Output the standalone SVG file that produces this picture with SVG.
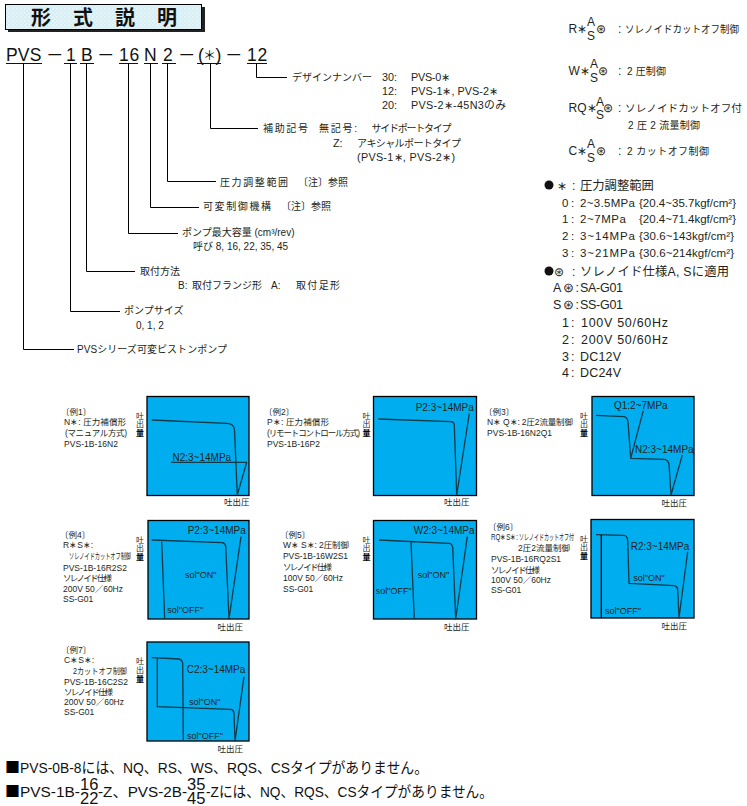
<svg xmlns="http://www.w3.org/2000/svg" width="747" height="806" viewBox="0 0 747 806">
<style>
text{font-family:"Liberation Sans","Noto Sans CJK JP",sans-serif;fill:#231f20;font-size:10px}
.code{font-size:17.500px;letter-spacing:.7px;fill:#111}
.ast{font-size:13px;fill:#111;font-family:"Noto Sans CJK JP",sans-serif}
.ttl{font-size:20px;font-weight:bold;fill:#111}
.s{font-size:8.500px}
.n{font-size:10.800px}
.r{font-size:12px}
.j{font-size:10px}
.l{font-size:12.300px}
.sp{font-size:11.500px}
.w{font-size:12.500px}
.b{font-size:15px;fill:#111}
.fr{font-size:16.500px;fill:#111}
.sq{font-size:15px;fill:#000;font-family:"Noto Sans CJK JP",sans-serif}
.v{font-size:8px;text-anchor:middle}
.vb{font-size:8px;text-anchor:middle;font-weight:bold;fill:#000}
.t{font-size:10px}
.o{font-size:9px}
.c{fill:none;stroke:#0b3a4a;stroke-width:1.300;stroke-linejoin:round}
.box{fill:#00aeef;stroke:#000;stroke-width:1.300}
#connectors path{fill:none;stroke:#000;stroke-width:1}
.u{fill:none;stroke:#111;stroke-width:1}
</style>
<defs>
<pattern id="dots" width="4" height="4" patternUnits="userSpaceOnUse"><rect width="4" height="4" fill="#d6eef4"/><circle cx="1" cy="1" r=".7" fill="#fff"/><circle cx="3" cy="3" r=".7" fill="#f1fafc"/></pattern>
</defs>
<rect width="747" height="806" fill="#fff"/>
<g id="title">
<rect x="8" y="7" width="197" height="25" fill="#222"/>
<rect x="5.500" y="4.500" width="196" height="25" fill="url(#dots)" stroke="#000" stroke-width="1"/>
<text class="ttl" x="31" y="24.500">形</text><text class="ttl" x="73" y="24.500">式</text><text class="ttl" x="115" y="24.500">説</text><text class="ttl" x="157" y="24.500">明</text>
</g>
<g id="model-code">
<text class="code" x="6" y="60.500" textLength="36">PVS</text><text class="code" x="46" y="60.500">－</text>
<text class="code" x="66" y="60.500">1</text><text class="code" x="81" y="60.500">B</text><text class="code" x="97" y="60.500">－</text>
<text class="code" x="119" y="60.500">16</text><text class="code" x="144" y="60.500">N</text><text class="code" x="163" y="60.500">2</text><text class="code" x="178" y="60.500">－</text>
<text class="code" x="198" y="60.500">(</text><text class="ast" x="203" y="60">＊</text><text class="code" x="215.500" y="60.500">)</text><text class="code" x="225" y="60.500">－</text><text class="code" x="247" y="60.500">12</text>
<path class="u" d="M6 63.500H42M64 63.500H77M80 63.500H94M119 63.500H138M144 63.500H158M162 63.500H176M197 63.500H221M247 63.500H267"/>
</g>
<g id="connectors">
<path d="M256.500 63V77.500H287"/>
<path d="M210.500 63V128.500H258"/>
<path d="M167.500 63V181.500H216"/>
<path d="M150.500 63V207.500H199"/>
<path d="M128.500 63V233.500H178"/>
<path d="M86.500 63V271.500H135"/>
<path d="M70.500 63V311.500H120"/>
<path d="M23.500 63V349.500H74"/>
</g>
<g id="label-design">
<text x="292" y="81">デザインナンバー</text><text class="n" x="382" y="81">30:</text><text class="n" x="411" y="81" textLength="39">PVS-0∗</text>
<text class="n" x="382" y="95">12:</text><text class="n" x="411" y="95" textLength="87">PVS-1∗, PVS-2∗</text>
<text class="n" x="382" y="109">20:</text><text class="n" x="411" y="109" textLength="95">PVS-2∗-45N3のみ</text>
</g>
<g id="label-aux">
<text x="263" y="132" textLength="45">補助記号</text><text x="319" y="132" textLength="38">無記号:</text><text x="371.500" y="132" textLength="80">サイドポートタイプ</text>
<text class="n" x="333" y="147">Z:</text><text x="357" y="147" textLength="104">アキシャルポートタイプ</text>
<text class="n" x="357" y="161" textLength="98">(PVS-1∗, PVS-2∗)</text>
</g>
<g id="label-pressure"><text x="220" y="186" textLength="68">圧力調整範囲</text><text x="298" y="186">〔注〕参照</text></g>
<g id="label-variable"><text x="203" y="210" textLength="68">可変制御機構</text><text x="281" y="210">〔注〕参照</text></g>
<g id="label-capacity"><text x="182" y="236">ポンプ最大容量 (cm³/rev)</text><text x="193" y="250">呼び 8, 16, 22, 35, 45</text></g>
<g id="label-mount"><text x="140" y="275">取付方法</text><text x="178" y="289">B:</text><text x="192" y="289">取付フランジ形</text><text x="271" y="289">A:</text><text x="296" y="289" textLength="44">取付足形</text></g>
<g id="label-size"><text x="124" y="314">ポンプサイズ</text><text x="136" y="329">0, 1, 2</text></g>
<g id="label-series"><text x="77" y="353" textLength="150">PVSシリーズ可変ピストンポンプ</text></g>

<g id="control-legend">
<text class="r" x="568.500" y="33">R∗</text><text class="r" x="587" y="26">A</text><text class="r" x="587" y="40">S</text><text class="r" x="596" y="33">⊛</text><text class="r" x="618" y="33">:</text><text class="j" x="625" y="33" textLength="114" lengthAdjust="spacingAndGlyphs">ソレノイドカットオフ制御</text>
<text class="r" x="568.500" y="75">W∗</text><text class="r" x="590" y="68">A</text><text class="r" x="590" y="82">S</text><text class="r" x="598" y="75">⊛</text><text class="r" x="618" y="75">:</text><text class="j" x="627" y="75" textLength="39">2 圧制御</text>
<text class="r" x="568.500" y="112">RQ∗</text><text class="r" x="596" y="106">A</text><text class="r" x="596" y="119">S</text><text class="r" x="603" y="112">⊛</text><text class="r" x="618" y="112">:</text><text class="j" x="625" y="112" textLength="117" lengthAdjust="spacingAndGlyphs">ソレノイドカットオフ付</text>
<text class="j" x="628" y="129" textLength="72">2 圧 2 流量制御</text>
<text class="r" x="568.500" y="155">C∗</text><text class="r" x="587" y="148">A</text><text class="r" x="587" y="162">S</text><text class="r" x="596" y="155">⊛</text><text class="r" x="618" y="155">:</text><text class="j" x="627" y="155" textLength="82">2 カットオフ制御</text>
</g>
<g id="spec-legend">
<circle cx="549" cy="185" r="4.500" fill="#111"/><text class="l" x="557" y="190">∗</text><text class="l" x="572" y="190">:</text><text class="l" x="580" y="190">圧力調整範囲</text>
<text class="sp" x="562" y="207">0</text><text class="sp" x="571" y="207">:</text><text class="sp" x="580" y="207" textLength="55">2~3.5MPa</text><text class="sp" x="639" y="207" textLength="97">{20.4~35.7kgf/cm²}</text>
<text class="sp" x="562" y="223">1</text><text class="sp" x="571" y="223">:</text><text class="sp" x="580" y="223" textLength="46">2~7MPa</text><text class="sp" x="639" y="223" textLength="97">{20.4~71.4kgf/cm²}</text>
<text class="sp" x="562" y="240">2</text><text class="sp" x="571" y="240">:</text><text class="sp" x="580" y="240" textLength="55">3~14MPa</text><text class="sp" x="639" y="240" textLength="95">{30.6~143kgf/cm²}</text>
<text class="sp" x="562" y="257">3</text><text class="sp" x="571" y="257">:</text><text class="sp" x="580" y="257" textLength="55">3~21MPa</text><text class="sp" x="639" y="257" textLength="95">{30.6~214kgf/cm²}</text>
<circle cx="549" cy="271" r="4.500" fill="#111"/><text class="l" x="554" y="276">⊛</text><text class="l" x="572" y="276">:</text><text class="l" x="580" y="276" textLength="149">ソレノイド仕様A, Sに適用</text>
<text class="w" x="553" y="292" textLength="26">A⊛:</text><text class="w" x="580" y="292" textLength="43">SA-G01</text>
<text class="w" x="553" y="309" textLength="26">S⊛:</text><text class="w" x="580" y="309" textLength="43">SS-G01</text>
<text class="w" x="562" y="327">1</text><text class="w" x="571" y="327">:</text><text class="w" x="581" y="327" textLength="87">100V 50/60Hz</text>
<text class="w" x="562" y="344">2</text><text class="w" x="571" y="344">:</text><text class="w" x="581" y="344" textLength="87">200V 50/60Hz</text>
<text class="w" x="562" y="361">3</text><text class="w" x="571" y="361">:</text><text class="w" x="580" y="361" textLength="41">DC12V</text>
<text class="w" x="562" y="377">4</text><text class="w" x="571" y="377">:</text><text class="w" x="580" y="377" textLength="41">DC24V</text>
</g>

<g id="chart1">
<text class="s" x="61" y="415">〔例1〕</text><text class="s" x="64" y="425" textLength="62">N∗: 圧力補償形</text><text class="s" x="65" y="436" textLength="62">(マニュアル方式)</text><text class="s" x="64" y="447" textLength="54">PVS-1B-16N2</text>
<rect class="box" x="147" y="396.500" width="102" height="99"/>
<path class="c" d="M151.700 420L227 423.300Q234 423.500 234.500 430L237.300 495L246.700 462.300H171"/>
<text class="t" x="172.500" y="460.500">N2:3~14MPa</text>
<text class="v" x="140" y="418.500">吐</text><text class="v" x="140" y="427">出</text><text class="vb" x="140" y="436">量</text>
<text class="s" x="224" y="505">吐出圧</text>
</g>
<g id="chart2">
<text class="s" x="264" y="415">〔例2〕</text><text class="s" x="267" y="425" textLength="62">P∗: 圧力補償形</text><text class="s" x="267" y="436" textLength="93">(リモートコントロール方式)</text><text class="s" x="267" y="447" textLength="53">PVS-1B-16P2</text>
<rect class="box" x="373.500" y="396.500" width="103" height="99"/>
<path class="c" d="M378.300 419L451 421.700Q454 422 454.300 425L456.700 495L469.300 413.300"/>
<text class="t" x="415.700" y="411">P2:3~14MPa</text>
<text class="v" x="366.500" y="418.500">吐</text><text class="v" x="366.500" y="427">出</text><text class="vb" x="366.500" y="436">量</text>
<text class="s" x="444" y="505">吐出圧</text>
</g>
<g id="chart3">
<text class="s" x="484" y="415">〔例3〕</text><text class="s" x="487" y="425" textLength="86">N∗ Q∗: 2圧2流量制御</text><text class="s" x="487" y="436" textLength="65">PVS-1B-16N2Q1</text>
<rect class="box" x="592" y="396.500" width="102" height="99"/>
<path class="c" d="M596 415.300L624 416.700Q627 417 628 421.700L630.700 458.300L643.300 410.700M630.700 458.300L664 459.300Q668 459.500 669 464L671 495L682.300 455"/>
<text class="t" x="614" y="409.300">Q1:2~7MPa</text>
<text class="t" x="635" y="452.700">N2:3~14MPa</text>
<text class="v" x="584" y="418.500">吐</text><text class="v" x="584" y="427">出</text><text class="vb" x="584" y="436">量</text>
<text class="s" x="661.500" y="506">吐出圧</text>
</g>
<g id="chart4">
<text class="s" x="60" y="538">〔例4〕</text><text class="s" x="63" y="548">R∗S∗:</text><text class="s" x="69" y="559" textLength="62" lengthAdjust="spacingAndGlyphs">ソレノイドカットオフ制御</text><text class="s" x="63" y="571" textLength="64">PVS-1B-16R2S2</text><text class="s" x="63" y="581" textLength="49">ソレノイド仕様</text><text class="s" x="63" y="592" textLength="60">200V 50／60Hz</text><text class="s" x="63" y="602">SS-G01</text>
<rect class="box" x="148" y="520.500" width="101" height="98.500"/>
<path class="c" d="M151.700 540L222 542.700Q225 543 225.700 546L229 619L241 536.700M161.700 541.700L164.700 619"/>
<text class="t" x="187.700" y="534.300">P2:3~14MPa</text>
<text class="o" x="185" y="578">sol"ON"</text><text class="o" x="167.300" y="613.300">sol"OFF"</text>
<text class="v" x="140" y="542.500">吐</text><text class="v" x="140" y="551">出</text><text class="vb" x="140" y="560">量</text>
<text class="s" x="217.500" y="629.500">吐出圧</text>
</g>
<g id="chart5">
<text class="s" x="280" y="538">〔例5〕</text><text class="s" x="283" y="548" textLength="66">W∗ S∗: 2圧制御</text><text class="s" x="283" y="559" textLength="65">PVS-1B-16W2S1</text><text class="s" x="283" y="570" textLength="49">ソレノイド仕様</text><text class="s" x="283" y="581" textLength="60">100V 50／60Hz</text><text class="s" x="283" y="592">SS-G01</text>
<rect class="box" x="373.500" y="520.500" width="103" height="98.500"/>
<path class="c" d="M379 540L449 543.300Q452 543.500 452.700 547.300L455.700 619L467.300 536.700M411 541.700L414.300 619"/>
<text class="t" x="413.700" y="534">W2:3~14MPa</text>
<text class="o" x="417.700" y="578">sol"ON"</text><text class="o" x="375.700" y="594.300">sol"OFF"</text>
<text class="v" x="366.500" y="542.500">吐</text><text class="v" x="366.500" y="551">出</text><text class="vb" x="366.500" y="560">量</text>
<text class="s" x="444" y="629.500">吐出圧</text>
</g>
<g id="chart6">
<text class="s" x="488" y="530">〔例6〕</text><text class="s" x="491" y="540" textLength="27" lengthAdjust="spacingAndGlyphs">RQ∗S∗:</text><text class="s" x="519" y="540" textLength="55" lengthAdjust="spacingAndGlyphs">ソレノイドカットオフ付</text><text class="s" x="518" y="551" textLength="52">2圧2流量制御</text><text class="s" x="491" y="562" textLength="70">PVS-1B-16RQ2S1</text><text class="s" x="491" y="573" textLength="49">ソレノイド仕様</text><text class="s" x="491" y="583" textLength="60">100V 50／60Hz</text><text class="s" x="491" y="593">SS-G01</text>
<rect class="box" x="591" y="519.500" width="103" height="98.500"/>
<path class="c" d="M596 534.700L624 535.300Q627 535.500 627.700 540L629 583.300L674.500 585.700Q677 586 677.700 589.300L679 618L687.700 551.700"/>
<path class="c" style="stroke:#000" d="M601.300 534.700V618"/>
<text class="t" x="630.700" y="550">R2:3~14MPa</text>
<text class="o" x="633.300" y="580.700">sol"ON"</text><text class="o" x="605" y="614.300">sol"OFF"</text>
<text class="v" x="584" y="541.500">吐</text><text class="v" x="584" y="550">出</text><text class="vb" x="584" y="559">量</text>
<text class="s" x="661.500" y="629">吐出圧</text>
</g>
<g id="chart7">
<text class="s" x="61" y="653">〔例7〕</text><text class="s" x="64" y="663">C∗S∗:</text><text class="s" x="73" y="674" textLength="54" lengthAdjust="spacingAndGlyphs">2カットオフ制御</text><text class="s" x="64" y="685" textLength="64">PVS-1B-16C2S2</text><text class="s" x="64" y="695" textLength="49">ソレノイド仕様</text><text class="s" x="64" y="705" textLength="60">200V 50／60Hz</text><text class="s" x="64" y="715">SS-G01</text>
<rect class="box" x="147" y="642" width="102" height="99"/>
<path class="c" d="M151.700 657.700L179 659Q182 659.500 182.700 663.300L183.300 741M157.300 658.300V706.700L230.500 709.300Q233.500 709.500 234 713.300L235 741L244 676.700"/>
<text class="t" x="186.700" y="673.300">C2:3~14MPa</text>
<text class="o" x="189" y="705">sol"ON"</text><text class="o" x="187" y="738.500">sol"OFF"</text>
<text class="v" x="140" y="664">吐</text><text class="v" x="140" y="672.500">出</text><text class="vb" x="140" y="681.500">量</text>
<text class="s" x="217.500" y="752">吐出圧</text>
</g>
<g id="notes">
<text class="sq" x="5" y="773">■</text><text class="b" x="20" y="773" textLength="408" lengthAdjust="spacingAndGlyphs">PVS-0B-8には、NQ、RS、WS、RQS、CSタイプがありません。</text>
<text class="sq" x="5" y="797">■</text><text class="b" x="20" y="797" textLength="60" lengthAdjust="spacingAndGlyphs">PVS-1B-</text><text class="fr" x="80" y="789.500">16</text><text class="fr" x="80" y="804">22</text>
<text class="b" x="98" y="797" textLength="89" lengthAdjust="spacingAndGlyphs">-Z、PVS-2B-</text><text class="fr" x="187" y="789.500">35</text><text class="fr" x="187" y="804">45</text>
<text class="b" x="206" y="797" textLength="287" lengthAdjust="spacingAndGlyphs">-Zには、NQ、RQS、CSタイプがありません。</text>
</g>
</svg>
